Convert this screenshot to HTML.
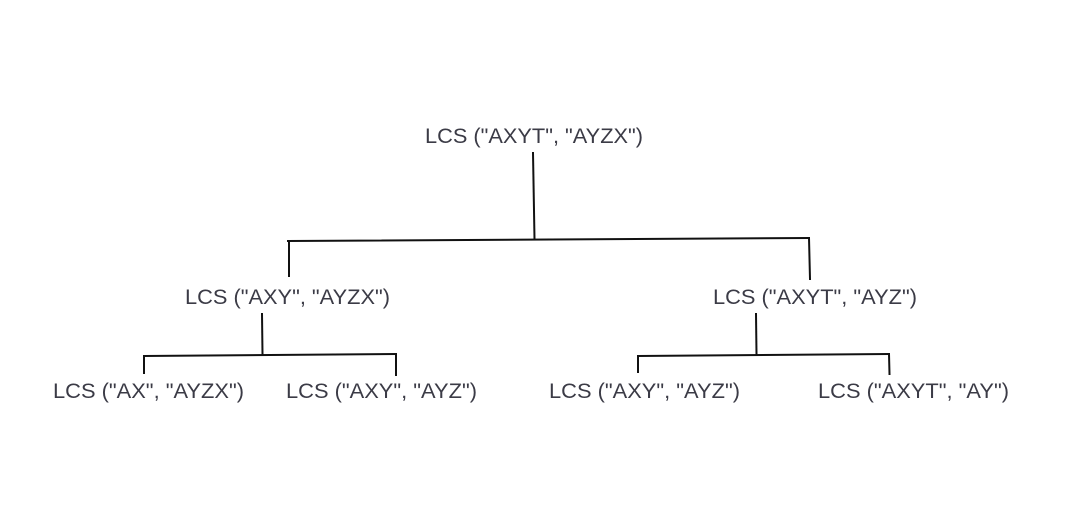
<!DOCTYPE html>
<html><head><style>
html,body{margin:0;padding:0;background:#fff;}
svg{display:block;}
text{font-family:"Liberation Sans",Arial,sans-serif;font-size:21.6px;fill:#3b3b46;}
</style></head><body>
<svg width="1065" height="513" viewBox="0 0 1065 513" xmlns="http://www.w3.org/2000/svg">
<g stroke="#111" stroke-width="2" fill="none" stroke-linecap="square">
<line x1="533" y1="153" x2="534.5" y2="239"/>
<line x1="288" y1="241" x2="809" y2="238"/>
<line x1="289" y1="241" x2="289" y2="276"/>
<line x1="809" y1="238" x2="810" y2="279"/>
<line x1="262" y1="314" x2="262.5" y2="354"/>
<line x1="144" y1="356" x2="396" y2="354"/>
<line x1="144" y1="356" x2="144" y2="373"/>
<line x1="396" y1="354" x2="396" y2="375"/>
<line x1="756" y1="314" x2="756.5" y2="354"/>
<line x1="638" y1="356" x2="889" y2="354"/>
<line x1="638" y1="356" x2="638" y2="372"/>
<line x1="889" y1="354" x2="889.5" y2="374"/>
</g>
<text x="425" y="143" textLength="218" lengthAdjust="spacingAndGlyphs">LCS ("AXYT", "AYZX")</text>
<text x="185" y="304" textLength="205" lengthAdjust="spacingAndGlyphs">LCS ("AXY", "AYZX")</text>
<text x="713" y="304" textLength="204" lengthAdjust="spacingAndGlyphs">LCS ("AXYT", "AYZ")</text>
<text x="53" y="398" textLength="191" lengthAdjust="spacingAndGlyphs">LCS ("AX", "AYZX")</text>
<text x="286" y="398" textLength="191" lengthAdjust="spacingAndGlyphs">LCS ("AXY", "AYZ")</text>
<text x="549" y="398" textLength="191" lengthAdjust="spacingAndGlyphs">LCS ("AXY", "AYZ")</text>
<text x="818" y="398" textLength="191" lengthAdjust="spacingAndGlyphs">LCS ("AXYT", "AY")</text>
</svg>
</body></html>
